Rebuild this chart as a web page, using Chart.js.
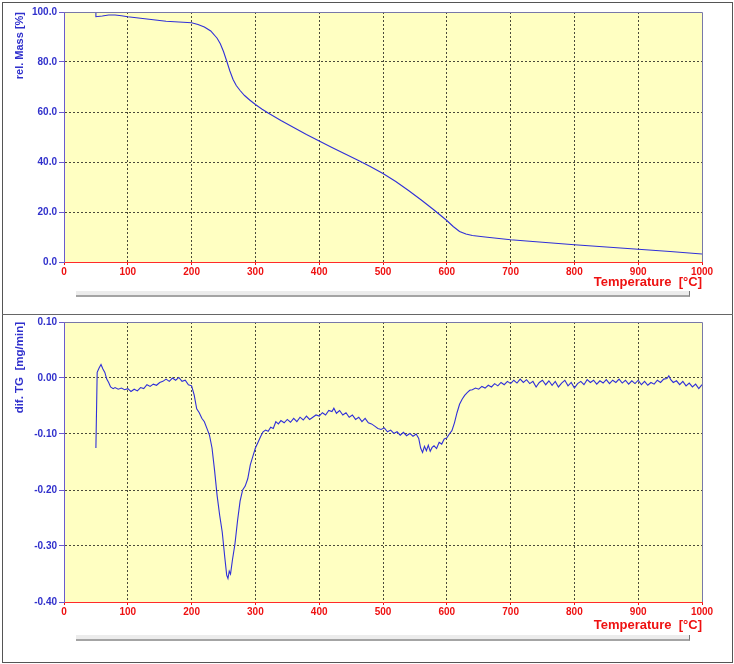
<!DOCTYPE html>
<html>
<head>
<meta charset="utf-8">
<title>TG / DTG</title>
<script src="https://cdn.jsdelivr.net/npm/chart.js"></script>
<style>
  body { margin: 0; background: #ffffff; }
  #page { position: relative; width: 734px; height: 664px; overflow: hidden; }
  .frame { position: absolute; left: 2px; top: 2px; width: 729px; height: 659px; border: 1px solid #555; }
  .divider { position: absolute; left: 2px; top: 314px; width: 731px; height: 1px; background: #666; }
  .bar { position: absolute; left: 76px; width: 613px; height: 4px; background: #ececec; border-bottom: 2px solid #a4a4a4; border-right: 1px solid #777; }
  canvas { position: absolute; left: 0; }
</style>
</head>
<body>
<div id="page">
  <div class="frame"></div>
  <div class="divider"></div>
  <div class="bar" style="top:291px"></div>
  <div class="bar" style="top:635px"></div>
  <canvas id="tgChart" width="734" height="314" style="top:0"></canvas>
  <canvas id="dtgChart" width="734" height="350" style="top:314px"></canvas>
</div>
<script>
// temperature axis
const tempTicks = [0, 100, 200, 300, 400, 500, 600, 700, 800, 900, 1000];

// TG curve: relative mass [%]
const tgTemp = [50, 50, 60, 70, 80, 90, 100, 120, 140, 160, 180, 200,
  210, 220, 230, 240, 245, 250, 255, 260, 265, 270,
  276, 283, 291, 300, 310, 320,
  340, 360, 380, 400, 420, 440, 460, 480, 500,
  520, 540, 560, 580, 600, 610, 620, 630, 640, 660,
  700, 750, 800, 850, 900, 950, 1000];
const tgMass = [100.0, 98.1, 98.4, 98.8, 98.8, 98.5, 98.1, 97.5, 96.9, 96.3, 96.0, 95.7,
  95.0, 94.0, 92.4, 89.5, 87.3, 84.2, 80.4, 76.4, 73.0, 70.6,
  68.6, 66.6, 64.8, 63.0, 61.2, 59.6,
  56.6, 53.8, 51.0, 48.4, 45.8, 43.3, 40.8, 38.2, 35.4,
  32.2, 28.6, 24.8, 20.8, 16.6, 14.2, 12.2, 11.2, 10.6, 10.0,
  8.9, 7.9, 6.9, 6.0, 5.1, 4.2, 3.2];
const tgTicks = [0, 20, 40, 60, 80, 100];

// DTG curve: dif. TG [mg/min]
const dtgTemp = [50, 52, 55, 58, 61, 64, 67, 70, 73, 77,
  80, 85, 90, 95, 100, 105, 110, 115, 120, 125,
  130, 135, 140, 145, 150, 155, 160, 165, 170, 175,
  180, 185, 190, 195, 200, 204, 208, 212, 216, 220,
  224, 228, 232, 236, 240, 244, 248, 252, 255, 257,
  259, 261, 264, 268, 272, 276, 280, 284, 288, 292,
  296, 300, 304, 308, 312, 316, 320, 324, 328, 332,
  336, 340, 345, 350, 355, 360, 365, 370, 375, 380,
  385, 390, 395, 400, 405, 410, 415, 420, 423, 427,
  432, 437, 442, 447, 452, 457, 462, 467, 472, 477,
  482, 487, 492, 497, 502, 507, 512, 517, 522, 527,
  532, 537, 542, 547, 552, 556, 559, 562, 565, 568,
  571, 574, 577, 580, 584, 588, 592, 596, 600, 604,
  608, 612, 616, 620, 624, 628, 632, 636, 640, 645,
  650, 655, 660, 665, 670, 675, 680, 685, 690, 695,
  700, 705, 710, 715, 720, 725, 730, 735, 740, 745,
  750, 755, 760, 765, 770, 775, 780, 785, 790, 795,
  800, 805, 810, 815, 820, 825, 830, 835, 840, 845,
  850, 855, 860, 865, 870, 875, 880, 885, 890, 895,
  900, 905, 910, 915, 920, 925, 930, 935, 940, 945,
  948, 951, 955, 960, 965, 970, 975, 980, 985, 990,
  995, 1000];
const dtgRate = [-0.125, 0.010, 0.018, 0.024, 0.016, 0.010, -0.002, -0.008, -0.016, -0.019,
  -0.017, -0.020, -0.018, -0.021, -0.019, -0.024, -0.020, -0.023, -0.017, -0.019,
  -0.012, -0.015, -0.011, -0.013, -0.008, -0.006, -0.002, -0.006, 0.000, -0.004,
  0.001, -0.006, -0.004, -0.012, -0.014, -0.030, -0.055, -0.062, -0.072, -0.078,
  -0.090, -0.102, -0.125, -0.165, -0.210, -0.245, -0.275, -0.320, -0.352, -0.358,
  -0.345, -0.350, -0.325, -0.296, -0.255, -0.220, -0.200, -0.193, -0.180, -0.155,
  -0.140, -0.125, -0.115, -0.105, -0.096, -0.093, -0.095, -0.088, -0.090, -0.078,
  -0.082, -0.076, -0.080, -0.074, -0.079, -0.072, -0.078, -0.070, -0.075, -0.068,
  -0.074, -0.070, -0.066, -0.068, -0.062, -0.066, -0.058, -0.060, -0.054, -0.063,
  -0.058, -0.066, -0.062, -0.070, -0.066, -0.074, -0.070, -0.078, -0.072, -0.080,
  -0.082, -0.086, -0.090, -0.092, -0.089, -0.096, -0.093, -0.099, -0.096, -0.102,
  -0.097, -0.103, -0.099, -0.104, -0.100, -0.108, -0.125, -0.133, -0.122, -0.130,
  -0.120, -0.131, -0.124, -0.121, -0.126, -0.115, -0.118, -0.109, -0.107, -0.100,
  -0.094, -0.080, -0.062, -0.047, -0.038, -0.031, -0.026, -0.022, -0.021, -0.018,
  -0.020, -0.015, -0.018, -0.013, -0.016, -0.010, -0.014, -0.008, -0.012, -0.006,
  -0.010, -0.004, -0.009, -0.002, -0.008, -0.003, -0.010, -0.006, -0.016, -0.008,
  -0.004, -0.012, -0.005, -0.013, -0.006, -0.016, -0.009, -0.004, -0.014, -0.008,
  -0.018, -0.010, -0.006, -0.012, -0.003, -0.008, -0.004, -0.011, -0.005, -0.009,
  -0.003, -0.010, -0.004, -0.008, -0.002, -0.009, -0.004, -0.011, -0.005, -0.010,
  -0.004, -0.012, -0.006, -0.013, -0.008, -0.011, -0.004, -0.008, -0.002, -0.001,
  0.004, -0.003, -0.008, -0.005, -0.012, -0.006, -0.014, -0.009, -0.016, -0.011,
  -0.019, -0.012];
const dtgTicks = [-0.4, -0.3, -0.2, -0.1, 0.0, 0.1];

const FONT = "Arial, 'Liberation Sans', sans-serif";
const BLUE = "#3030cc";
const RED = "#ee1111";
const GRID = "#4a4a3a";

// yellow plot background + thin top/right frame
const plotFrame = {
  id: "plotFrame",
  beforeDraw(chart) {
    const { ctx, chartArea: a } = chart;
    ctx.save();
    ctx.fillStyle = "#ffffc2";
    ctx.fillRect(a.left, a.top, a.right - a.left, a.bottom - a.top);
    ctx.restore();
  },
  afterDraw(chart) {
    const { ctx, chartArea: a } = chart;
    ctx.save();
    ctx.strokeStyle = "#7878a8";
    ctx.lineWidth = 1;
    ctx.beginPath();
    ctx.moveTo(a.left, Math.round(a.top) + 0.5);
    ctx.lineTo(Math.round(a.right) + 0.5, Math.round(a.top) + 0.5);
    ctx.lineTo(Math.round(a.right) + 0.5, a.bottom);
    ctx.stroke();
    ctx.restore();
  },
};

const edgeless = (ticks) => (c) =>
  c.tick && (c.tick.value === ticks[0] || c.tick.value === ticks[ticks.length - 1]) ? "rgba(0,0,0,0)" : GRID;

const makeChart = (id, temps, values, yTicks, o) => {
  var ctx = document.getElementById(id).getContext("2d");
  return new Chart(ctx, {
    type: "line",
    data: {
      datasets: [
        {
          data: temps.map((t, i) => ({ x: t, y: values[i] })),
          borderColor: "#3030d8",
          borderWidth: 1.1,
          pointRadius: 0,
          tension: 0,
          fill: false,
        },
      ],
    },
    options: {
      responsive: false,
      animation: false,
      events: [],
      layout: { padding: { top: o.top, right: 32, left: 0, bottom: 0 } },
      plugins: { legend: { display: false }, tooltip: { enabled: false } },
      scales: {
        x: {
          type: "linear",
          min: tempTicks[0],
          max: tempTicks[tempTicks.length - 1],
          afterBuildTicks: (s) => { s.ticks = tempTicks.map((v) => ({ value: v })); },
          afterFit: (s) => { s.height = o.xHeight; },
          ticks: { color: RED, font: { family: FONT, size: 10, weight: "bold" }, padding: 1, maxRotation: 0, autoSkip: false, callback: (v) => String(v) },
          grid: { color: edgeless(tempTicks), tickLength: 3, tickColor: RED },
          border: { color: "#ff2a2a", dash: [2, 2] },
          title: { display: true, text: "Temperature  [°C]", align: "end", color: RED, font: { family: FONT, size: 13, weight: "bold" }, padding: { top: 0, bottom: o.xTitlePad } },
        },
        y: {
          type: "linear",
          min: yTicks[0],
          max: yTicks[yTicks.length - 1],
          afterBuildTicks: (s) => { s.ticks = yTicks.map((v) => ({ value: v })); },
          afterFit: (s) => { s.width = 64; },
          ticks: { color: BLUE, font: { family: FONT, size: 10, weight: "bold" }, padding: 2, autoSkip: false, callback: (v) => v.toFixed(o.dec) },
          grid: { color: edgeless(yTicks), tickLength: 5, tickColor: "#6a5acd" },
          border: { color: "#6a5acd", dash: [2, 2] },
          title: { display: true, text: o.title, align: "end", color: BLUE, font: { family: FONT, size: o.titleSize, weight: "bold" }, padding: { top: 13, bottom: 0 } },
        },
      },
    },
    plugins: [plotFrame],
  });
};

makeChart("tgChart", tgTemp, tgMass, tgTicks, { top: 12, xHeight: 52, xTitlePad: 24, dec: 1, title: "rel. Mass [%]", titleSize: 11 });
makeChart("dtgChart", dtgTemp, dtgRate, dtgTicks, { top: 8, xHeight: 62, xTitlePad: 31, dec: 2, title: "dif. TG  [mg/min]", titleSize: 11.5 });
</script>
</body>
</html>
